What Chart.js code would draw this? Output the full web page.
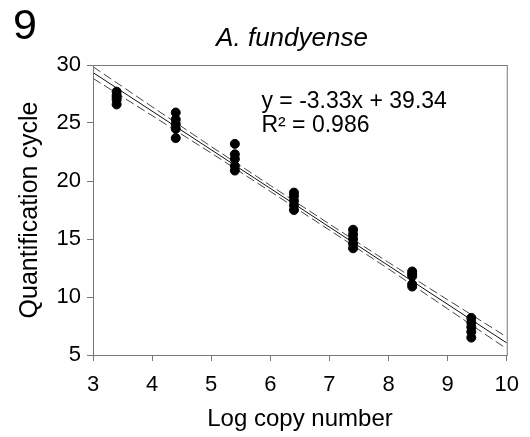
<!DOCTYPE html>
<html><head><meta charset="utf-8">
<script src="https://cdn.jsdelivr.net/npm/chart.js@4"></script>
<style>html,body{margin:0;padding:0;background:#fff}#wrap{width:530px;height:437px}</style>
</head><body><div id="wrap"><canvas id="c" width="530" height="437"></canvas></div>
<script>
const xLevels = [3.4, 4.4, 5.4, 6.4, 7.4, 8.4, 9.4];
const cqValues = [
  [27.7, 27.4, 27.2, 27.0, 26.6],
  [25.9, 25.3, 24.9, 24.5, 23.7],
  [23.2, 22.3, 21.9, 21.3, 20.9],
  [19.0, 18.7, 18.3, 17.9, 17.5],
  [15.8, 15.4, 15.0, 14.6, 14.2],
  [12.2, 12.0, 11.8, 11.1, 10.9],
  [8.2, 7.8, 7.4, 7.0, 6.5]
];
const fitX = [3, 10];
const fitY = [29.35, 6.04];
const bandX = [3, 4, 5, 6, 7, 8, 9, 10];
const bandUpper = [29.85, 26.4, 22.97, 19.62, 16.29, 12.98, 9.76, 6.55];
const bandLower = [28.85, 25.64, 22.41, 19.1, 15.77, 12.42, 8.98, 5.53];
const xTicks = [3, 4, 5, 6, 7, 8, 9, 10];
const yTicks = [5, 10, 15, 20, 25, 30];
const equationText = "y = -3.33x + 39.34";
const r2Text = "R\u00B2 = 0.986";
const titleText = "A. fundyense";
const panelText = "9";
const xTitle = "Log copy number";
const yTitle = "Quantification cycle";

const FONT = "'Liberation Sans', Arial, sans-serif";
const points = [];
xLevels.forEach((x, i) => cqValues[i].forEach(v => points.push({x: x, y: v})));
const toXY = (xs, ys) => xs.map((x, i) => ({x: x, y: ys[i]}));

const deco = {
  id: 'deco',
  afterDraw(chart) {
    const {ctx, chartArea: a, scales} = chart;
    ctx.save();
    ctx.strokeStyle = '#777';
    ctx.lineWidth = 1;
    ctx.strokeRect(a.left + 0.5, a.top + 0.5, a.right - a.left, a.bottom - a.top);
    ctx.fillStyle = '#000';
    ctx.textBaseline = 'alphabetic';
    ctx.font = "43px " + FONT;
    ctx.textAlign = 'left';
    ctx.fillText(panelText, 13, 39);
    ctx.font = "italic 26px " + FONT;
    ctx.textAlign = 'center';
    ctx.fillText(titleText, 292, 46);
    ctx.font = "24px " + FONT;
    ctx.fillText(xTitle, 300, 426);
    ctx.save();
    ctx.font = "25px " + FONT;
    ctx.translate(37, (a.top + a.bottom) / 2);
    ctx.rotate(-Math.PI / 2);
    ctx.fillText(yTitle, 0, 0);
    ctx.restore();
    ctx.font = "23px " + FONT;
    ctx.textAlign = 'left';
    const tx = scales.x.getPixelForValue(5.85);
    ctx.fillText(equationText, tx, scales.y.getPixelForValue(26.3));
    ctx.fillText(r2Text, tx, scales.y.getPixelForValue(24.2));
    ctx.restore();
  }
};

new Chart(document.getElementById('c'), {
  type: 'scatter',
  data: {
    datasets: [
      {data: points, backgroundColor: '#000', borderColor: '#000', pointRadius: 4.5, pointHoverRadius: 4.5, order: 1},
      {type: 'line', data: toXY(fitX, fitY), borderColor: '#111', borderWidth: 1, pointRadius: 0, fill: false, order: 2},
      {type: 'line', data: toXY(bandX, bandUpper), borderColor: '#444', borderWidth: 1, borderDash: [9, 4], pointRadius: 0, fill: false, order: 3},
      {type: 'line', data: toXY(bandX, bandLower), borderColor: '#444', borderWidth: 1, borderDash: [9, 4], pointRadius: 0, fill: false, order: 3}
    ]
  },
  options: {
    responsive: false,
    animation: false,
    events: [],
    layout: {padding: {top: 65, right: 23, left: 0, bottom: 0}},
    plugins: {legend: {display: false}, tooltip: {enabled: false}, title: {display: false}},
    scales: {
      x: {
        type: 'linear', min: 3, max: 10,
        afterFit(s) { s.height = 82; },
        afterBuildTicks(s) { s.ticks = xTicks.map(v => ({value: v})); },
        grid: {drawOnChartArea: false, drawTicks: true, tickLength: 6, color: '#777'},
        border: {display: true, color: '#777'},
        ticks: {color: '#000', font: {family: FONT, size: 22}, padding: 11, maxRotation: 0}
      },
      y: {
        type: 'linear', min: 5, max: 30,
        afterFit(s) { s.width = 93; },
        afterBuildTicks(s) { s.ticks = yTicks.map(v => ({value: v})); },
        grid: {drawOnChartArea: false, drawTicks: true, tickLength: 6, color: '#777'},
        border: {display: true, color: '#777'},
        ticks: {color: '#000', font: {family: FONT, size: 22}, padding: 6}
      }
    }
  },
  plugins: [deco]
});
</script>
</body></html>
